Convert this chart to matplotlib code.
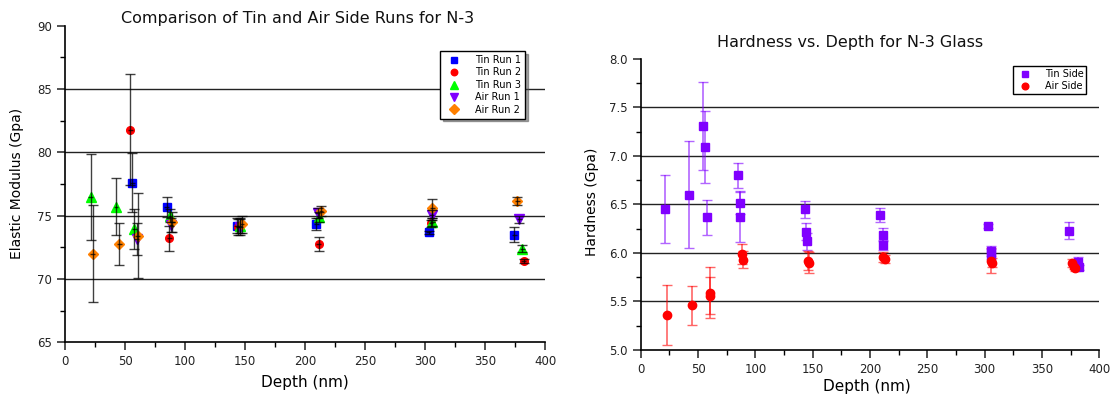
import numpy as np
import matplotlib
matplotlib.use('Agg')
import matplotlib.pyplot as plt
from matplotlib.ticker import MultipleLocator

# ---- left chart: elastic modulus per run ----
tin1_depth = [56.1, 84.7, 143.0, 209.2, 303.0, 374.2]
tin1_mod = [77.6, 75.65, 74.2, 74.33, 73.67, 73.5]
tin1_err = [2.3, 0.8, 0.6, 0.5, 0.15, 0.57]

tin2_depth = [54.4, 86.7, 144.5, 211.4, 305.0, 382.2]
tin2_mod = [81.78, 73.2, 74.1, 72.73, 74.38, 71.43]
tin2_err = [4.4, 1.0, 0.6, 0.55, 0.3, 0.15]

tin3_depth = [21.4, 42.5, 57.8, 87.5, 145.5, 212.0, 306.0, 381.1]
tin3_mod = [76.45, 75.7, 73.93, 75.0, 74.2, 74.9, 74.51, 72.4]
tin3_err = [3.4, 2.25, 1.6, 0.5, 0.6, 0.4, 0.3, 0.3]

air1_depth = [59.7, 88.3, 146.0, 210.6, 305.6, 378.6]
air1_mod = [73.15, 74.25, 74.1, 75.17, 75.04, 74.7]
air1_err = [1.3, 0.55, 0.6, 0.4, 0.4, 0.25]

air2_depth = [23.0, 45.3, 60.6, 89.4, 147.5, 213.3, 306.1, 376.7]
air2_mod = [72.0, 72.77, 73.4, 74.5, 74.3, 75.35, 75.57, 76.17]
air2_err = [3.85, 1.65, 3.35, 0.8, 0.65, 0.4, 0.75, 0.3]

runs = [
    ('Tin Run 1', tin1_depth, tin1_mod, tin1_err, '#0000FF', 's', 5.5),
    ('Tin Run 2', tin2_depth, tin2_mod, tin2_err, '#FF0000', 'o', 5.5),
    ('Tin Run 3', tin3_depth, tin3_mod, tin3_err, '#00FF00', '^', 6.5),
    ('Air Run 1', air1_depth, air1_mod, air1_err, '#8000FF', 'v', 6.5),
    ('Air Run 2', air2_depth, air2_mod, air2_err, '#FF8000', 'D', 5.5),
]

# ---- right chart: hardness ----
tin_side_depth = [21.5, 42.1, 54.1, 55.8, 57.5, 84.9, 86.3, 86.3, 143.0, 144.5, 145.3,
                  209.0, 211.0, 211.6, 302.6, 305.3, 305.8, 373.8, 381.4, 382.6]
tin_side_hard = [6.45, 6.60, 7.31, 7.09, 6.37, 6.80, 6.52, 6.37, 6.45, 6.22, 6.12,
                 6.39, 6.19, 6.08, 6.28, 6.02, 5.99, 6.23, 5.91, 5.85]
tin_side_err = [0.35, 0.55, 0.45, 0.37, 0.18, 0.13, 0.12, 0.26, 0.09, 0.09, 0.09,
                0.07, 0.07, 0.05, 0.02, 0.05, 0.05, 0.085, 0.05, 0.03]

air_side_depth = [22.9, 45.0, 60.7, 60.4, 88.4, 89.0, 146.0, 147.0,
                  211.6, 213.0, 305.5, 306.2, 376.4, 378.0, 378.8]
air_side_hard = [5.36, 5.46, 5.59, 5.56, 5.99, 5.93, 5.92, 5.90,
                 5.96, 5.94, 5.92, 5.90, 5.90, 5.86, 5.84]
air_side_err = [0.31, 0.2, 0.26, 0.19, 0.1, 0.09, 0.1, 0.11,
                0.05, 0.04, 0.13, 0.05, 0.04, 0.03, 0.03]

fig = plt.figure(figsize=(11.12, 3.96), dpi=100)
ax1 = fig.add_axes([0.0585, 0.1356, 0.4317, 0.80])
ax2 = fig.add_axes([0.5762, 0.1164, 0.4124, 0.7346])


def style_axes(ax):
    for s in ['top', 'right']:
        ax.spines[s].set_visible(False)
    for s in ['left', 'bottom']:
        ax.spines[s].set_linewidth(1.2)
    ax.tick_params(which='major', direction='out', length=6, width=1.1, labelsize=8.5,
                   colors='#222222')
    ax.tick_params(which='minor', direction='out', length=3.5, width=1.0)


# left
for label, d, m, e, c, mk, ms in runs:
    ax1.plot(d, m, linestyle='none', marker=mk, color=c, markersize=ms, label=label, zorder=3)
    ax1.errorbar(d, m, yerr=e, fmt='none', ecolor='black', elinewidth=1, capsize=3.5,
                 capthick=1, alpha=0.75, zorder=4)
    ax1.errorbar(d, m, xerr=2.0, fmt='none', ecolor='black', elinewidth=1, capsize=0,
                 alpha=0.75, zorder=4)
for yv in [70, 75, 80, 85]:
    ax1.axhline(yv, color='#222222', linewidth=1, zorder=1)
ax1.set_xlim(0, 400)
ax1.set_ylim(65, 90)
ax1.xaxis.set_major_locator(MultipleLocator(50))
ax1.xaxis.set_minor_locator(MultipleLocator(25))
ax1.yaxis.set_major_locator(MultipleLocator(5))
ax1.yaxis.set_minor_locator(MultipleLocator(2.5))
style_axes(ax1)
ax1.legend(loc='upper right', bbox_to_anchor=(0.4769, 0.8831), bbox_transform=fig.transFigure,
           fontsize=7, frameon=True, fancybox=False, edgecolor='black', framealpha=1,
           labelspacing=0.25, handletextpad=1.2, borderpad=0.4, markerscale=0.85,
           shadow=True)

# right
ax2.errorbar(tin_side_depth, tin_side_hard, yerr=tin_side_err, fmt='none', ecolor='#8000FF',
             elinewidth=1.2, capsize=3.5, capthick=1, alpha=0.6, zorder=2)
ax2.plot(tin_side_depth, tin_side_hard, linestyle='none', marker='s', color='#8000FF',
         markersize=5.5, label='Tin Side', zorder=3)
ax2.errorbar(air_side_depth, air_side_hard, yerr=air_side_err, fmt='none', ecolor='#FF0000',
             elinewidth=1.2, capsize=3.5, capthick=1, alpha=0.6, zorder=2)
ax2.plot(air_side_depth, air_side_hard, linestyle='none', marker='o', color='#FF0000',
         markersize=6, label='Air Side', zorder=3)
for yv in [5.5, 6.0, 6.5, 7.0, 7.5]:
    ax2.axhline(yv, color='#222222', linewidth=1, zorder=1)
ax2.set_xlim(0, 400)
ax2.set_ylim(5.0, 8.0)
ax2.xaxis.set_major_locator(MultipleLocator(50))
ax2.xaxis.set_minor_locator(MultipleLocator(25))
ax2.yaxis.set_major_locator(MultipleLocator(0.5))
ax2.yaxis.set_minor_locator(MultipleLocator(0.25))
ax2.yaxis.set_major_formatter(matplotlib.ticker.FormatStrFormatter('%.1f'))
style_axes(ax2)
ax2.legend(loc='upper right', bbox_to_anchor=(0.9814, 0.8452), bbox_transform=fig.transFigure,
           fontsize=7, frameon=True, fancybox=False, edgecolor='black', framealpha=1,
           labelspacing=0.2, handletextpad=1.0, borderpad=0.3, markerscale=0.8)

# titles and labels
fig.text(0.268, 0.954, 'Comparison of Tin and Air Side Runs for N-3', ha='center', va='center',
         fontsize=11.5, color='#111111')
fig.text(0.7644, 0.892, 'Hardness vs. Depth for N-3 Glass', ha='center', va='center',
         fontsize=11.5, color='#111111')
fig.text(0.274, 0.035, 'Depth (nm)', ha='center', va='center', fontsize=11)
fig.text(0.78, 0.0235, 'Depth (nm)', ha='center', va='center', fontsize=11)
fig.text(0.0153, 0.536, 'Elastic Modulus (Gpa)', ha='center', va='center', rotation=90, fontsize=10)
fig.text(0.532, 0.49, 'Hardness (Gpa)', ha='center', va='center', rotation=90, fontsize=10)

fig.savefig('out.png', dpi=100)
